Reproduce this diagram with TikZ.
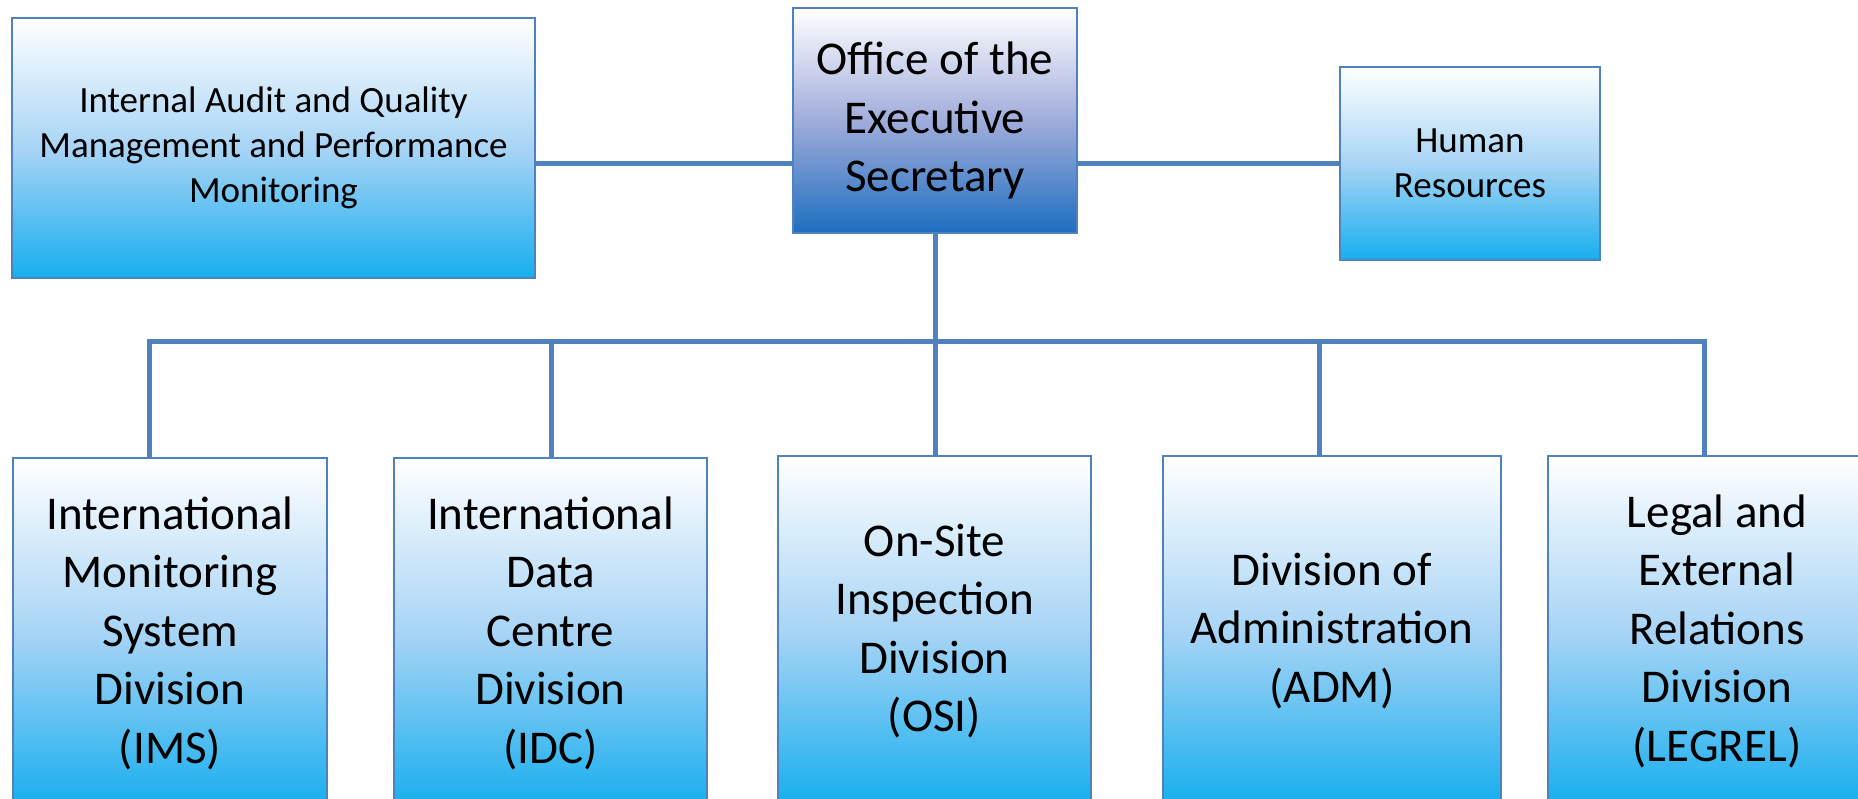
\documentclass[tikz,border=0pt]{standalone}
\usepackage{fontspec}
\setmainfont{Carlito}
\definecolor{linkblue}{RGB}{79,129,189}
\definecolor{skyblue}{RGB}{22,174,238}
\definecolor{midsky}{RGB}{168,212,245}
\definecolor{deepblue}{RGB}{30,110,192}
\definecolor{midlav}{RGB}{160,172,218}

\begin{document}
\begin{tikzpicture}[x=0.5pt, y=-0.5pt, every node/.style = {shape=rectangle, draw=linkblue, line width=1pt, inner sep=0pt, align=center, top color = white, bottom color = skyblue, middle color = midsky},
    big/.style = {font=\fontsize{23.5}{29.25}\selectfont},
    small/.style = {font=\fontsize{18.5}{22.5}\selectfont},
    division/.style = {big, anchor=north west, minimum height=175pt},
    link/.style = {draw=linkblue, line width=2.5pt}]
    \useasboundingbox (0,0) rectangle (1858,798);
    \clip (0,0) rectangle (1858,798);
    \node[small, minimum width=261.5pt, minimum height=130pt] (audit) at (273.5,148) {Internal Audit and Quality\\Management and Performance\\Monitoring};
    \node[big, minimum width=142pt, minimum height=112.5pt, top color = white, bottom color = deepblue, middle color = midlav] (office) at (935,120.5) {Office of the\\Executive\\Secretary};
    \node[small, minimum width=130pt, minimum height=96.5pt] (hr) at (1470,163.5) {Human\\Resources};
    \node[division, minimum width=157pt] (ims) at (12,457) {International\\Monitoring\\System\\Division\\(IMS)};
    \node[division, minimum width=156.5pt] (idc) at (393,457) {International\\Data\\Centre\\Division\\(IDC)};
    \node[division, minimum width=156.5pt] (osi) at (777,455) {On-Site\\Inspection\\Division\\(OSI)};
    \node[division, minimum width=169pt] (adm) at (1162,455) {Division of\\Administration\\(ADM)};
    \node[division, minimum width=169pt] (legrel) at (1547,455) {Legal and\\External\\Relations\\Division\\(LEGREL)};
    \coordinate (bus ims) at (149,341);
    \coordinate (bus idc) at (551,341);
    \coordinate (bus adm) at (1319,341);
    \coordinate (bus legrel) at (1704,341);
    \draw[link] (audit.east |- hr.west) -- (office.west |- hr.west);
    \draw[link] (office.east |- hr.west) -- (hr.west);
    \draw[link] (office.south) -- (office.south |- osi.north);
    \draw[link] (bus ims |- ims.north) -- (bus ims) -- (bus legrel) -- (bus legrel |- legrel.north);
    \draw[link] (bus idc) -- (bus idc |- idc.north);
    \draw[link] (bus adm) -- (bus adm |- adm.north);
\end{tikzpicture}
\end{document}
